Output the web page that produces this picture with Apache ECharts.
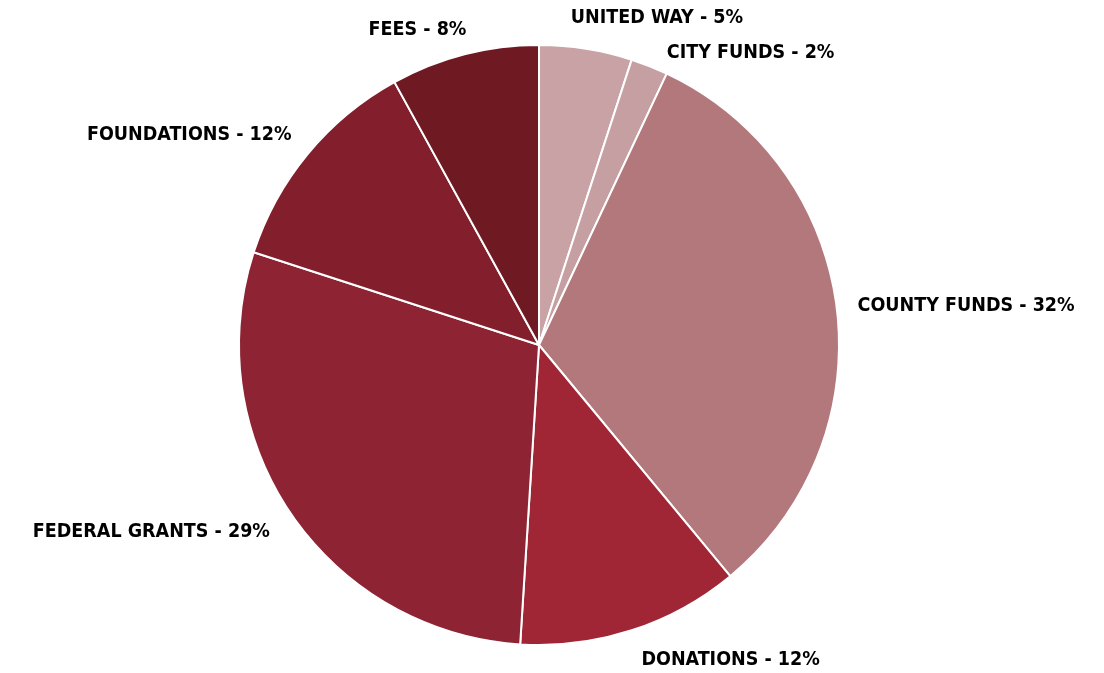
<!DOCTYPE html>
<html><head><meta charset="utf-8">
<script src="https://cdn.jsdelivr.net/npm/echarts@6/dist/echarts.min.js"></script>
<style>html,body{margin:0;padding:0;background:#fff}#c{width:1104px;height:673px}</style>
</head><body><div id="c"></div>
<script>
const categories = ['UNITED WAY','CITY FUNDS','COUNTY FUNDS','DONATIONS','FEDERAL GRANTS','FOUNDATIONS','FEES'];
const values = [5, 2, 32, 12, 29, 12, 8];
const colors = ['#c8a2a5','#c59fa2','#b3787b','#a02636','#8e2433','#831e2c','#6f1a23'];
// label nudges (style only)
const labelShift = [[-26,-19],[4,-2],[0,0],[-3,18],[-2,12],[2,-11],[14,-13]];

const chart = echarts.init(document.getElementById('c'));
chart.setOption({
  backgroundColor: '#ffffff',
  animation: false,
  series: [{
    type: 'pie',
    center: [539, 345],
    radius: [0, 300],
    startAngle: 90,
    clockwise: true,
    avoidLabelOverlap: false,
    data: categories.map((c, i) => ({ name: c, value: values[i], itemStyle: { color: colors[i] } })),
    itemStyle: { borderColor: '#ffffff', borderWidth: 2 },
    label: {
      show: true,
      position: 'outside',
      formatter: p => p.name + ' - ' + p.value + '%',
      fontFamily: '"Liberation Sans Narrow", "DejaVu Sans Condensed", sans-serif',
      fontWeight: 'bold',
      fontSize: 19.5,
      color: '#000000'
    },
    labelLine: { show: false, length: 12, length2: 4 },
    labelLayout: p => ({ dx: labelShift[p.dataIndex][0], dy: labelShift[p.dataIndex][1], hideOverlap: false, moveOverlap: null })
  }]
});
</script></body></html>
